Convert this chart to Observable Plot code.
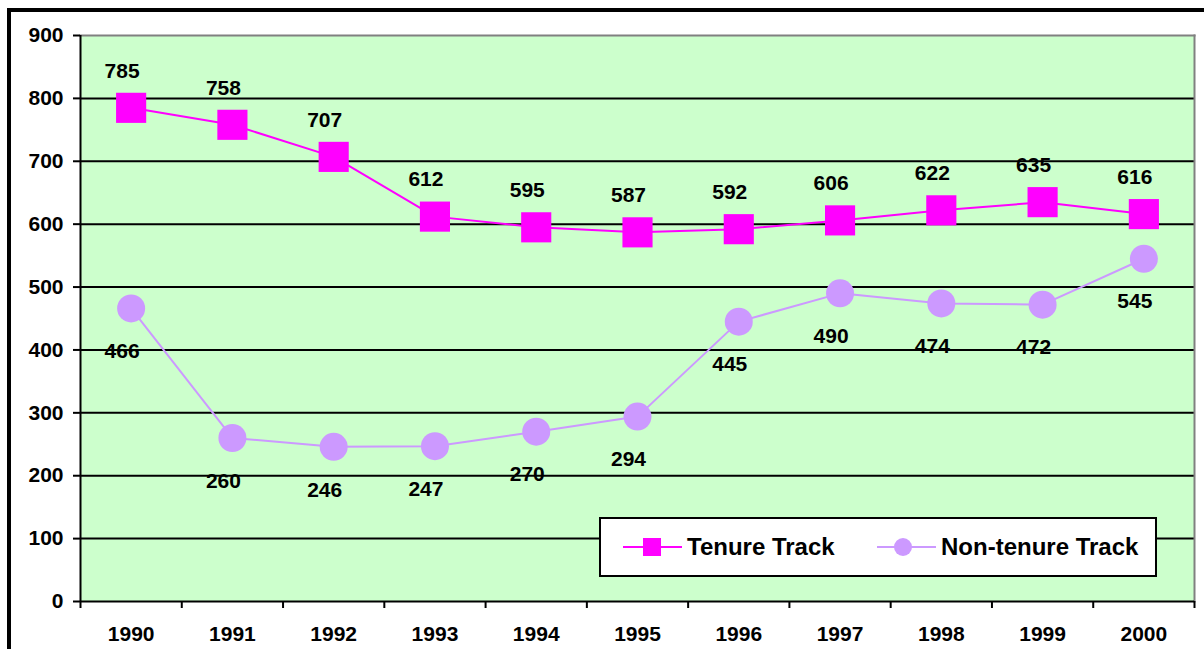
<!DOCTYPE html>
<html>
<head>
<meta charset="utf-8">
<script src="https://cdn.jsdelivr.net/npm/d3@7"></script>
<script src="https://cdn.jsdelivr.net/npm/@observablehq/plot@0.6"></script>
<style>
  html, body { margin: 0; padding: 0; background: #fff; }
  #wrap { position: relative; width: 1204px; height: 649px; overflow: hidden; font-family: Arial, "Liberation Sans", sans-serif; }
  #outer { position: absolute; left: 7px; top: 8px; width: 1220px; height: 700px; border-left: 4px solid #000; border-top: 4px solid #000; pointer-events: none; }
  #legend { position: absolute; left: 599px; top: 517px; width: 558px; height: 60px; box-sizing: border-box; border: 2px solid #000; background: #fff; }
  .item { position: absolute; top: 0; height: 56px; display: flex; align-items: center; font-weight: bold; font-size: 24px; color: #000; }
  .item svg { display: block; margin-right: 5px; }
</style>
</head>
<body>
<div id="wrap">
  <div id="chart"></div>
  <div id="outer"></div>
  <div id="legend"></div>
</div>
<script>
const years = ["1990","1991","1992","1993","1994","1995","1996","1997","1998","1999","2000"];
const tenure = [785, 758, 707, 612, 595, 587, 592, 606, 622, 635, 616];
const nonTenure = [466, 260, 246, 247, 270, 294, 445, 490, 474, 472, 545];
const yTicks = [0, 100, 200, 300, 400, 500, 600, 700, 800, 900];
const seriesNames = ["Tenure Track", "Non-tenure Track"];
const seriesColors = ["#FF00FF", "#CC99FF"];

const data = years.map((year, i) => ({ i, year, tenure: tenure[i], non: nonTenure[i] }));
const xPos = d => d.i + 0.5;

const plot = Plot.plot({
  width: 1204,
  height: 649,
  marginLeft: 80,
  marginTop: 35,
  marginRight: 10,
  marginBottom: 48,
  style: { fontFamily: 'Arial, "Liberation Sans", sans-serif', fontWeight: "bold", fontSize: "21px", color: "#000", background: "transparent" },
  x: { domain: [0, years.length], label: null },
  y: { domain: [0, 900], label: null },
  marks: [
    Plot.frame({ fill: "#CCFFCC", stroke: null }),
    Plot.ruleY(yTicks.filter(v => v > 0 && v < 900), { stroke: "#000", strokeWidth: 2 }),
    Plot.frame({ anchor: "top", stroke: "#808080", strokeWidth: 2 }),
    Plot.frame({ anchor: "right", stroke: "#808080", strokeWidth: 2 }),
    Plot.ruleY([0], { stroke: "#000", strokeWidth: 2 }),
    Plot.ruleX([0], { stroke: "#000", strokeWidth: 2 }),
    Plot.axisY({ ticks: yTicks, tickSize: 7, tickPadding: 10, tickFormat: d => String(d), strokeWidth: 2, fontSize: 21, fontWeight: "bold", label: null }),
    Plot.axisX({ ticks: d3.range(0, years.length + 1), tickSize: 7, tickFormat: () => "", strokeWidth: 2, label: null }),
    Plot.axisX({ ticks: d3.range(years.length).map(i => i + 0.5), tickSize: 0, tickPadding: 25, tickFormat: d => years[Math.floor(d)], fontSize: 21, fontWeight: "bold", label: null }),
    Plot.line(data, { x: xPos, y: "non", stroke: seriesColors[1], strokeWidth: 2 }),
    Plot.line(data, { x: xPos, y: "tenure", stroke: seriesColors[0], strokeWidth: 2 }),
    Plot.dot(data, { x: xPos, y: "non", r: 14, fill: seriesColors[1], stroke: null }),
    Plot.dot(data, { x: xPos, y: "tenure", symbol: "square", r: 17, fill: seriesColors[0], stroke: null }),
    Plot.text(data, { x: xPos, y: "tenure", text: d => String(d.tenure), dy: -37, dx: -9, fontSize: 21, fontWeight: "bold", fill: "#000" }),
    Plot.text(data, { x: xPos, y: "non", text: d => String(d.non), dy: 43, dx: -9, fontSize: 21, fontWeight: "bold", fill: "#000" })
  ]
});
document.getElementById("chart").appendChild(plot);

// Legend
const legend = document.getElementById("legend");
function swatch(color, shape) {
  const ns = "http://www.w3.org/2000/svg";
  const svg = document.createElementNS(ns, "svg");
  svg.setAttribute("width", 59); svg.setAttribute("height", 24);
  const line = document.createElementNS(ns, "line");
  line.setAttribute("x1", 0); line.setAttribute("x2", 59); line.setAttribute("y1", 12); line.setAttribute("y2", 12);
  line.setAttribute("stroke", color); line.setAttribute("stroke-width", 2);
  svg.appendChild(line);
  if (shape === "square") {
    const r = document.createElementNS(ns, "rect");
    r.setAttribute("x", 20); r.setAttribute("y", 3); r.setAttribute("width", 18); r.setAttribute("height", 18);
    r.setAttribute("fill", color); svg.appendChild(r);
  } else {
    const c = document.createElementNS(ns, "circle");
    c.setAttribute("cx", 26); c.setAttribute("cy", 12); c.setAttribute("r", 9);
    c.setAttribute("fill", color); svg.appendChild(c);
  }
  return svg;
}
[[0, "square", 22], [1, "circle", 276]].forEach(([k, shape, left]) => {
  const it = document.createElement("div");
  it.className = "item";
  it.style.left = left + "px";
  it.appendChild(swatch(seriesColors[k], shape));
  const s = document.createElement("span");
  s.textContent = seriesNames[k];
  it.appendChild(s);
  legend.appendChild(it);
});
</script>
</body>
</html>
